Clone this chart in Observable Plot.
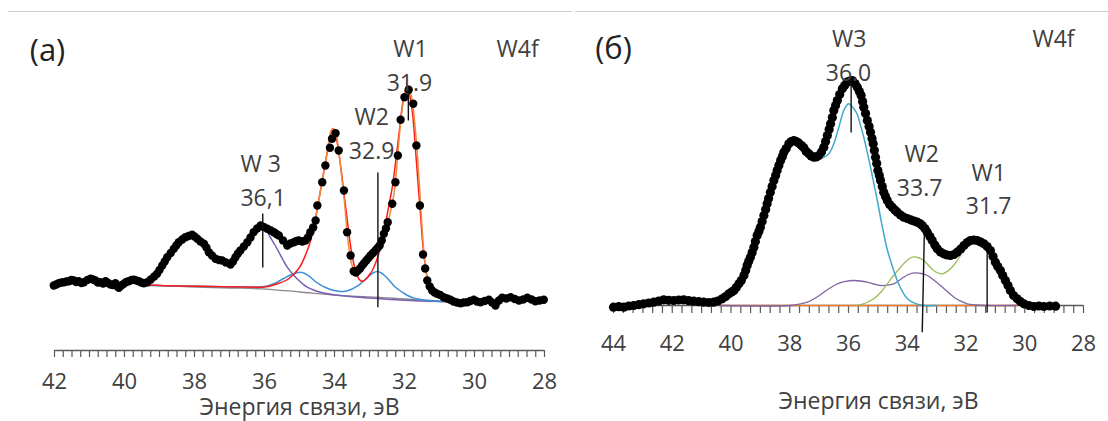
<!DOCTYPE html>
<html><head><meta charset="utf-8">
<script src="https://cdn.jsdelivr.net/npm/d3@7"></script>
<script src="https://cdn.jsdelivr.net/npm/@observablehq/plot@0.6"></script>
<style>
html,body{margin:0;padding:0;background:#fff;}
#wrap{position:relative;width:1108px;height:421px;overflow:hidden;background:#fff;font-family:"Open Sans",sans-serif;}
.sep{position:absolute;top:11px;height:0;border-top:1.5px solid #cfcfcf;z-index:2;}
#pa{position:absolute;left:0;top:0;width:560px;height:421px;}
#pb{position:absolute;left:560px;top:0;width:548px;height:421px;}
</style></head><body>
<div id="wrap"><div id="pa"></div><div id="pb"></div><div class="sep" style="left:8px;width:564px"></div><div class="sep" style="left:575px;width:533px"></div></div>
<script>
// ---------- Panel (a) : [binding energy eV, intensity a.u.] ----------
const spectrumA = [[42.02,65],[41.95,66],[41.88,67.3],[41.80,68],[41.73,68.3],[41.66,69],[41.59,69.3],[41.52,70.5],[41.45,70],[41.38,68.5],[41.31,69.3],[41.23,67.5],[41.16,68.3],[41.06,70.5],[40.97,71.7],[40.90,71],[40.83,70],[40.76,68],[40.69,68.3],[40.61,67],[40.54,69.3],[40.47,67.5],[40.40,66],[40.33,65.5],[40.26,67.3],[40.20,64],[40.16,62.7],[40.09,65],[40.02,66.7],[39.95,68.5],[39.88,69.3],[39.80,70.5],[39.73,70.7],[39.66,70],[39.59,69.3],[39.52,68],[39.45,67.3],[39.35,68.3],[39.25,71],[39.15,74],[39.07,76.7],[39.00,80.5],[38.92,85],[38.85,89],[38.78,93.3],[38.68,97.5],[38.59,101.7],[38.52,105],[38.45,108.3],[38.35,111],[38.26,113.3],[38.17,114.5],[38.07,115.7],[38.00,114],[37.92,111.7],[37.83,109],[37.73,106.7],[37.66,103],[37.59,98.3],[37.50,95],[37.40,91.7],[37.30,90.5],[37.21,90],[37.10,88],[36.97,86],[36.90,89],[36.83,93.3],[36.76,97],[36.69,100],[36.59,104],[36.49,108.3],[36.40,113],[36.31,118.3],[36.21,122],[36.11,125],[36.02,123.5],[35.92,121.7],[35.82,120],[35.73,118.3],[35.66,116.5],[35.59,115],[35.47,110],[35.35,105],[35.26,107],[35.16,108.3],[35.09,109.5],[35.02,110],[34.92,109],[34.83,110],[34.76,113],[34.69,118.3],[34.61,123],[34.54,130],[34.49,145],[34.35,168.3],[34.26,185],[34.13,202.7],[34.07,211.7],[33.97,217.3],[33.88,200],[33.73,160],[33.64,118.3],[33.54,95],[33.45,79.3],[33.39,78],[33.33,80],[33.27,82],[33.21,85],[33.15,87.5],[33.09,90],[33.03,92.5],[32.97,95],[32.90,97.5],[32.83,100],[32.77,102.5],[32.71,105],[32.65,110],[32.59,116.7],[32.53,122],[32.48,128.3],[32.35,146.7],[32.26,168.3],[32.19,195],[32.11,230.7],[32.00,253.3],[31.88,260.7],[31.75,246.7],[31.66,205],[31.56,145],[31.47,96],[31.41,82],[31.35,70],[31.28,64],[31.21,60],[31.14,58],[31.07,56.7],[30.98,55.5],[30.88,53.3],[30.78,52],[30.69,50.7],[30.60,49],[30.50,48],[30.40,47.3],[30.31,48],[30.21,48.3],[30.12,49.5],[30.02,50.7],[29.93,49],[29.83,48.3],[29.71,49.5],[29.59,50.7],[29.50,48],[29.40,45],[29.30,50],[29.21,52.7],[29.09,52],[28.97,53.3],[28.85,51.5],[28.73,50],[28.61,51],[28.49,52.7],[28.37,51],[28.26,49.3],[28.14,50],[28.02,50.7]];
const envelopeA = [[39.40,67],[39.10,77],[38.80,92],[38.50,106],[38.20,114],[38.00,114.5],[37.80,109],[37.60,99],[37.40,92],[37.20,89],[37.00,87],[36.80,94],[36.60,104],[36.40,113],[36.20,121],[36.10,124],[35.90,121],[35.70,117],[35.50,112],[35.30,107],[35.10,108],[34.90,109],[34.70,118],[34.55,132],[34.45,150],[34.30,180],[34.20,200],[34.10,219],[34.02,222],[33.92,210],[33.82,182],[33.72,150],[33.62,112],[33.52,88],[33.42,79],[33.32,79],[33.20,85],[33.00,94],[32.80,101],[32.65,110],[32.50,125],[32.38,142],[32.28,162],[32.19,197],[32.10,232],[32.00,256],[31.92,265],[31.82,257],[31.72,232],[31.62,190],[31.52,135],[31.44,96],[31.35,72],[31.25,61],[31.10,56],[30.95,54],[30.80,51]];
const w1A = [[39.35,65.5],[38.50,64.5],[37.50,64],[36.50,63.5],[36.00,63.5],[35.60,67],[35.30,72],[35.00,83],[34.80,98],[34.70,108],[34.60,122],[34.50,140],[34.40,160],[34.30,180],[34.20,200],[34.10,219],[34.04,222],[33.95,213],[33.88,198],[33.80,178],[33.73,157],[33.65,135],[33.59,117],[33.52,100],[33.45,87],[33.38,78],[33.31,72],[33.24,69.5],[33.18,69.3],[33.10,71.5],[33.02,75],[32.92,80],[32.83,87],[32.76,94],[32.69,103],[32.60,117],[32.51,133],[32.43,148],[32.35,163],[32.27,184],[32.19,207],[32.13,225],[32.07,243],[32.00,257],[31.92,265],[31.85,255],[31.78,240],[31.73,222],[31.69,203],[31.64,180],[31.59,157],[31.53,130],[31.47,103],[31.41,86],[31.35,73],[31.28,65],[31.21,60],[31.10,57],[30.97,55],[30.85,53],[30.69,51.7]];
const w2A = [[39.35,65],[38.50,64.5],[37.50,64],[36.50,63.5],[36.00,64],[35.80,66],[35.64,68.3],[35.45,72],[35.26,75.5],[35.10,77.5],[34.97,78.3],[34.85,77],[34.69,73.3],[34.55,69],[34.40,65.7],[34.25,63],[34.11,61],[33.97,59.7],[33.83,59],[33.68,59.3],[33.54,60.7],[33.40,63.3],[33.26,66.7],[33.14,70.5],[33.02,74],[32.90,77.5],[32.78,79],[32.66,77.5],[32.54,74],[32.42,69.5],[32.31,65],[32.16,60.5],[32.02,57.3],[31.88,54.5],[31.73,52.3],[31.55,51],[31.35,50],[31.10,49.3],[30.88,49]];
const w3A = [[39.35,66],[39.10,76],[38.80,91],[38.50,104],[38.20,112.5],[38.00,113],[37.80,108],[37.60,98],[37.40,90.5],[37.20,87.5],[37.00,85.5],[36.80,92.5],[36.60,102.5],[36.40,111.5],[36.20,119.5],[36.08,123],[35.95,120],[35.83,113],[35.71,106],[35.59,98.3],[35.47,90.5],[35.35,83.3],[35.21,77],[35.07,71.7],[34.92,67],[34.78,63.3],[34.60,60.5],[34.40,58.3],[34.10,56.3],[33.83,55],[33.40,53.5],[33.00,52.5],[32.50,51.3],[32.00,50.3],[31.50,49.5],[30.90,49]];
const backgroundA = [[39.35,65.5],[38.00,63.5],[37.00,62.5],[36.07,61.7],[35.00,58.5],[34.11,55.7],[33.50,54.3],[32.80,53.3],[32.00,51.5],[31.26,50],[30.78,48.5]];
const ticksA = [42,40,38,36,34,32,30,28];
const labelsA = [{t:"W1",E:31.83,I:301},{t:"W4f",E:28.77,I:301},{t:"31.9",E:31.86,I:267},{t:"W2",E:32.94,I:233},{t:"32.9",E:32.94,I:199},{t:"W 3",E:36.11,I:186},{t:"36,1",E:36.04,I:152}];
const markersA = [{E1:36.05,E2:36.05,I1:83,I2:137},{E1:32.76,E2:32.76,I1:43.3,I2:178},{E1:31.89,E2:31.89,I1:230,I2:262}];
const letterA = [{t:"(a)",E:42.2,I:299}];

// ---------- Panel (б) ----------
const spectrumB = [[44.00,8.3],[43.82,8.8],[43.65,8.3],[43.48,9.5],[43.31,10],[43.14,10.8],[42.97,11.7],[42.80,12.5],[42.63,13.3],[42.46,14.5],[42.29,15.7],[42.12,15.2],[41.95,15],[41.78,15.5],[41.61,15.7],[41.44,14.8],[41.27,14.3],[41.10,13.8],[40.93,13.3],[40.76,13],[40.59,13.3],[40.45,14.5],[40.30,16.7],[40.18,19],[40.07,21.7],[39.98,23.5],[39.90,25],[39.82,28],[39.73,31.7],[39.65,35],[39.56,40],[39.50,45],[39.45,50],[39.40,54],[39.34,58.3],[39.28,63],[39.22,68.3],[39.17,74],[39.11,80],[39.05,84],[39.00,88.3],[38.94,94],[38.88,100],[38.82,106],[38.77,111.7],[38.72,117],[38.66,123.3],[38.60,129],[38.54,135],[38.48,140],[38.43,145],[38.37,150],[38.31,155],[38.25,159],[38.20,163.3],[38.12,167],[38.03,171.7],[37.95,174],[37.86,175],[37.78,174],[37.69,172.3],[37.60,170],[37.52,167.7],[37.44,164],[37.35,161.7],[37.27,159.5],[37.18,158.3],[37.10,158.5],[37.01,160],[36.92,163.5],[36.84,168.3],[36.78,174],[36.72,180],[36.66,186],[36.61,191.7],[36.55,198],[36.50,205],[36.44,210],[36.38,215],[36.30,221],[36.21,226.7],[36.13,230],[36.05,233.3],[35.96,234.5],[35.87,235],[35.78,232],[35.70,228.3],[35.63,224],[35.57,220],[35.52,214],[35.48,208.3],[35.42,202],[35.36,195],[35.30,189],[35.25,183.3],[35.20,177],[35.16,171.7],[35.12,165],[35.08,158.3],[35.04,152],[35.00,145],[34.95,140],[34.91,135],[34.85,129],[34.80,123.3],[34.74,119],[34.68,115],[34.60,111],[34.51,108.3],[34.42,105.5],[34.34,103.3],[34.23,100.5],[34.12,98.3],[34.00,97],[33.89,95.7],[33.77,94.5],[33.66,93.3],[33.57,92],[33.49,90],[33.40,87],[33.32,83.3],[33.23,79],[33.15,75],[33.06,70.5],[32.98,66.7],[32.87,63.5],[32.76,61.7],[32.64,60.5],[32.53,60],[32.41,61],[32.30,63.3],[32.18,66.5],[32.07,70],[31.96,73],[31.85,75],[31.73,75.5],[31.62,75],[31.50,73.5],[31.39,71.7],[31.28,69],[31.17,65],[31.08,59],[31.00,53.3],[30.92,49],[30.83,45],[30.75,40],[30.66,35],[30.57,30],[30.49,25],[30.38,20],[30.26,16.7],[30.15,14],[30.03,11.7],[29.86,10],[29.69,9],[29.52,9.5],[29.35,9],[29.15,9.5],[28.95,9.3]];
const backgroundB = [[40.36,10],[30.26,10]];
const w3B = [[44.00,9],[43.00,11.5],[42.00,14.5],[41.00,13.5],[40.50,13.5],[40.20,18],[39.95,23],[39.70,32],[39.50,44],[39.30,60],[39.10,80],[38.90,99],[38.70,117],[38.50,137],[38.30,154],[38.10,167],[37.95,172.5],[37.80,173.5],[37.60,169],[37.40,162.5],[37.20,158],[37.00,158],[36.84,158.3],[36.67,161.7],[36.50,171.7],[36.33,188.3],[36.16,205],[36.05,210.5],[35.99,211.7],[35.85,208],[35.71,201.7],[35.60,191],[35.48,178.3],[35.36,163],[35.25,148.3],[35.13,131],[35.02,115],[34.91,98],[34.80,81.7],[34.69,67],[34.57,55],[34.45,44],[34.34,35],[34.23,27.5],[34.12,21.7],[33.98,16.5],[33.83,13.3],[33.60,10.8],[33.44,10],[33.00,10]];
const minorB_comp = [[40.40,10],[37.97,10],[37.70,11.3],[37.40,13.3],[37.10,18],[36.84,23.3],[36.60,28],[36.38,31.7],[36.10,34.2],[35.82,35],[35.60,34.5],[35.36,33.3],[35.14,31.5],[34.91,30],[34.68,30.3],[34.46,31.7],[34.30,34.5],[34.12,38.3],[33.92,41.5],[33.72,42.7],[33.52,42],[33.32,40],[33.10,35.5],[32.87,30],[32.64,24],[32.41,18.3],[32.18,14.3],[31.96,11.7],[31.68,10.5],[31.39,10],[30.30,10]];
const w12B = [[35.70,10],[35.42,12.5],[35.14,16.7],[34.91,23],[34.68,31.7],[34.45,40.5],[34.23,48.3],[34.03,54.5],[33.83,58.3],[33.64,58],[33.44,55],[33.27,50],[33.10,45],[32.95,42.5],[32.81,41.7],[32.67,43.5],[32.53,46.7],[32.41,50.5],[32.30,55],[32.18,60.5],[32.07,66],[31.96,71],[31.85,74],[31.73,75],[31.62,74.5],[31.50,73],[31.39,71],[31.28,68],[31.17,64.5],[31.08,58.5],[31.00,53],[30.92,48.5],[30.83,44.5],[30.75,39.5],[30.66,34.5],[30.57,29.5],[30.49,24.5],[30.38,19.5],[30.26,16]];
const envelopeB = [[40.40,14],[40.20,18],[40.00,23],[39.80,28.5],[39.60,38],[39.40,54],[39.20,70],[39.00,88.3],[38.80,108],[38.60,129],[38.40,147.5],[38.20,163.3],[38.00,172.5],[37.85,175],[37.70,172.5],[37.50,167],[37.30,160.5],[37.15,158.3],[37.00,160],[36.85,168],[36.70,182],[36.55,198],[36.40,213],[36.25,224.5],[36.10,231.5],[35.95,235],[35.85,235],[35.70,228.3],[35.55,218],[35.40,200],[35.25,183.3],[35.10,162],[34.95,140],[34.80,123.3],[34.65,114],[34.50,108],[34.30,102.5],[34.10,98],[33.90,95.7],[33.70,93.5],[33.50,90],[33.30,82.5],[33.10,73],[32.95,66],[32.75,61.5],[32.55,60],[32.35,62],[32.15,67.5],[31.95,73],[31.75,75.5],[31.55,74],[31.35,70.5],[31.15,64],[31.00,53.3],[30.85,46],[30.70,37.5],[30.55,29],[30.40,21],[30.26,16]];
const ticksB = [44,42,40,38,36,34,32,30,28];
const labelsB = [{t:"W3",E:35.98,I:275.5},{t:"W4f",E:29.02,I:276},{t:"36.0",E:36.0,I:241.5},{t:"W2",E:33.51,I:161},{t:"33.7",E:33.58,I:127},{t:"W1",E:31.23,I:142},{t:"31.7",E:31.23,I:109}];
const markersB = [{E1:35.91,E2:35.91,I1:235,I2:183},{E1:33.41,E2:33.49,I1:93,I2:-16.7},{E1:31.28,E2:31.28,I1:62,I2:3}];
const letterB = [{t:"(б)",E:44.0,I:266}];

const TEXT = "#404040";
const AXIS = "#595959";
const FONT = '"Open Sans", sans-serif';
const X = d => d[0], Y = d => d[1];
const curve = (data, stroke, w=1.5) => Plot.line(data, {x: X, y: Y, stroke, strokeWidth: w, curve: "catmull-rom"});

function panel(o) {
  return Plot.plot({
    width: o.width, height: 421,
    marginLeft: o.ml, marginRight: o.mr, marginTop: 50, marginBottom: o.mb,
    x: {domain: o.xdom, label: null},
    y: {domain: o.ydom, axis: null},
    style: {fontFamily: FONT, fontSize: "22px", color: TEXT, background: "transparent", overflow: "visible"},
    marks: [
      Plot.ruleY([o.ydom[0]], {stroke: AXIS, strokeWidth: 1.3}),
      Plot.axisX(o.minor, {tickSize: o.tickSize, tickFormat: () => "", stroke: AXIS, strokeWidth: 1.2, label: null}),
      Plot.axisX(o.ticks, {tickSize: 0, tickPadding: o.tickPad, fontSize: 22, fill: TEXT, label: null}),
      Plot.text(["Энергия связи, эВ"], {frameAnchor: "bottom", dx: o.titleDx, dy: o.titleDy, fontSize: 23, fill: TEXT}),
      ...o.curves,
      Plot.dot(o.spectrum, {x: X, y: Y, r: o.r, fill: "#000"}),
      Plot.link(o.markers, {x1: "E1", x2: "E2", y1: "I1", y2: "I2", stroke: "#111", strokeWidth: 1.4}),
      Plot.text(o.labels, {x: "E", y: "I", text: "t", fontSize: 23, fill: TEXT}),
      Plot.text(o.letter, {x: "E", y: "I", text: "t", fontSize: 31, fill: "#222"})
    ]
  });
}

const plotA = panel({
  width: 560, ml: 54, mr: 16, mb: 71, xdom: [42, 28], ydom: [0, 300],
  minor: d3.range(0, 57).map(i => 28 + i * 0.25), tickSize: 7,
  ticks: ticksA, tickPad: 23, titleDx: 0, titleDy: 64, r: 4.2,
  spectrum: spectrumA, markers: markersA, labels: labelsA, letter: letterA,
  curves: [
    curve(backgroundA, "#8a8a8a", 1.3),
    curve(w3A, "#7b5db0"),
    curve(w2A, "#3a8fd9"),
    curve(w1A, "#ff1a1a"),
    curve(envelopeA, "#f08a3c")
  ]
});
document.getElementById("pa").appendChild(plotA);

const plotB = panel({
  width: 548, ml: 53, mr: 25, mb: 116, xdom: [44, 28], ydom: [10, 265],
  minor: d3.range(0, 49).map(i => 28 + i / 3), tickSize: 8,
  ticks: ticksB, tickPad: 30, titleDx: 30, titleDy: 103, r: 4.6,
  spectrum: spectrumB, markers: markersB, labels: labelsB, letter: letterB,
  curves: [
    curve(backgroundB, "#ed7d31", 1.5),
    curve(minorB_comp, "#8064a2", 1.3),
    curve(w12B, "#9bbb59", 1.3),
    curve(w3B, "#3fa9c9", 1.5),
    curve(envelopeB, "#e04848", 1.2)
  ]
});
document.getElementById("pb").appendChild(plotB);
</script>
</body></html>
